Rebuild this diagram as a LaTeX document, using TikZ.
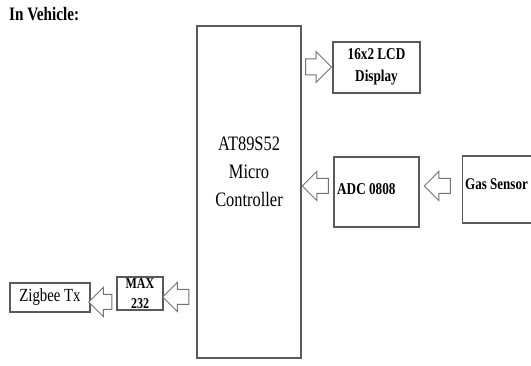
\documentclass[tikz,border=0pt]{standalone}
\usepackage{fontspec}
\setmainfont{Liberation Serif}
\usetikzlibrary{shapes.arrows}
\newcommand{\narrow}[1]{\scalebox{0.8}[1]{#1}}
\tikzset{
  blk/.style={draw=black!65, line width=1.3pt, inner sep=0pt},
  lbl/.style={font=\bfseries\fontsize{16}{21}\selectfont, align=center, inner sep=0pt},
  hollow/.style={single arrow, draw=black!55, line width=1pt, fill=white,
    minimum height=26pt, inner xsep=0pt, inner ysep=7pt, single arrow head extend=7pt},
}
\begin{document}
\begin{tikzpicture}[x=1pt, y=-1pt]
\useasboundingbox (0,0) rectangle (531,366);
\clip (0,0) rectangle (531,366);

% Title
\node[lbl, font=\bfseries\fontsize{19}{21}\selectfont, anchor=west] (title) at (9,14) {\narrow{In Vehicle:}};

% Blocks
\node[blk, minimum width=104pt, minimum height=332pt] (mc) at (249,192) {};
\node[font=\fontsize{20.5}{28}\selectfont, align=center, inner sep=0pt] (mctxt) at (249,172)
  {\narrow{AT89S52}\\\narrow{Micro}\\\narrow{Controller}};
\node[blk, minimum width=87pt, minimum height=51pt] (lcd) at (376.5,67.5) {};
\node[lbl, font=\bfseries\fontsize{16.5}{22}\selectfont] (lcdtxt) at (376.5,67) {\narrow{16x2 LCD}\\\narrow{Display}};
\node[blk, minimum width=85pt, minimum height=70pt] (adc) at (376.5,192) {};
\node[lbl, font=\bfseries\fontsize{16.5}{21}\selectfont, anchor=west] (adctxt) at (337,189) {\narrow{ADC 0808}};
\node[blk, minimum width=90pt, minimum height=67pt, anchor=west] (gas) at (462,189.5) {};
\node[lbl, font=\bfseries\fontsize{16.3}{21}\selectfont, anchor=west] (gastxt) at (465,184) {\narrow{Gas Sensor}};
\node[blk, minimum width=46pt, minimum height=33pt] (max) at (140,293.5) {};
\node[lbl, font=\bfseries\fontsize{15}{20}\selectfont] (maxtxt) at (140,293.5) {\narrow{MAX}\\\narrow{232}};
\node[blk, minimum width=80pt, minimum height=29pt] (zig) at (50,297.5) {};
\node[font=\fontsize{18.5}{20}\selectfont, inner sep=0pt] (zigtxt) at (50,297) {\narrow{Zigbee Tx}};

% Arrows
\node[hollow, inner ysep=7.5pt, single arrow head extend=7.5pt] (a1) at (314.5,67) {};
\node[hollow, shape border rotate=180] (a2) at (319,186) {};
\node[hollow, shape border rotate=180] (a3) at (441,186) {};
\node[hollow, shape border rotate=180, minimum height=23pt] (a4) at (104,302) {};
\node[hollow, shape border rotate=180] (a5) at (179.5,297) {};
\end{tikzpicture}
\end{document}
